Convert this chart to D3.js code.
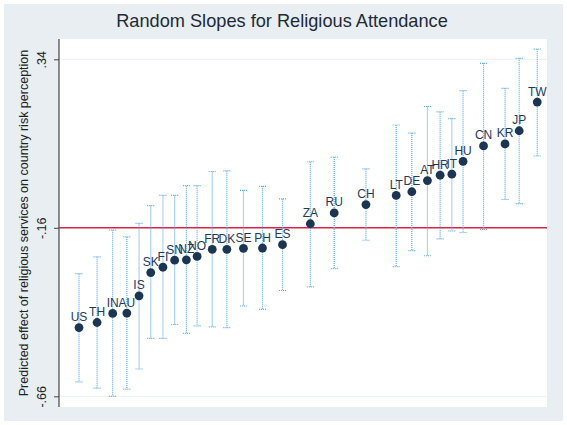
<!DOCTYPE html>
<html><head><meta charset="utf-8">
<script src="https://cdn.jsdelivr.net/npm/d3@7"></script>
<style>body{margin:0;background:#fff;} svg{display:block;}</style>
</head><body>
<svg id="c" width="567" height="425"></svg>
<script>
const countries = ["US","TH","IN","AU","IS","SK","FI","SN","NZ","NO","FR","DK","SE","PH","ES","ZA","RU","CH","LT","DE","AT","HR","IT","HU","CN","KR","JP","TW"];
const xVals = [4.1,7.8,11.0,13.9,16.4,18.8,21.3,23.7,26.1,28.3,31.4,34.4,37.8,41.7,45.8,51.5,56.4,62.9,69.1,72.3,75.5,78.1,80.5,82.8,87.0,91.4,94.3,98.0];
const slopes = [-0.456,-0.441,-0.414,-0.413,-0.362,-0.293,-0.277,-0.256,-0.255,-0.245,-0.224,-0.224,-0.221,-0.220,-0.210,-0.148,-0.116,-0.091,-0.064,-0.053,-0.020,-0.004,-0.001,0.037,0.083,0.089,0.128,0.213];
const ciUpper = [-0.296,-0.246,-0.167,-0.187,-0.147,-0.094,-0.064,-0.064,-0.035,-0.035,0.007,0.009,-0.049,-0.037,-0.074,0.036,0.050,0.015,0.145,0.121,0.200,0.184,0.164,0.247,0.328,0.254,0.343,0.370];
const ciLower = [-0.617,-0.636,-0.660,-0.639,-0.579,-0.488,-0.488,-0.447,-0.473,-0.451,-0.454,-0.456,-0.392,-0.402,-0.346,-0.335,-0.281,-0.197,-0.275,-0.228,-0.243,-0.193,-0.169,-0.174,-0.165,-0.076,-0.088,0.053];
const yTicks = [0.34,-0.16,-0.66];
const yTickLabels = [".34","-.16","-.66"];
const refLine = -0.16;
const title = "Random Slopes for Religious Attendance";
const yTitle = "Predicted effect of religious services on country risk perception";

const svg = d3.select("#c");
const W = 567, H = 425;
const plot = {l:59, r:547, t:39, b:407};

svg.append("rect").attr("x",0).attr("y",0).attr("width",W).attr("height",H).attr("fill","#ffffff");
svg.append("rect").attr("x",4).attr("y",4).attr("width",559).attr("height",417).attr("fill","#e8eef1");
svg.append("rect").attr("x",plot.l).attr("y",plot.t).attr("width",plot.r-plot.l).attr("height",plot.b-plot.t).attr("fill","#ffffff");

const x = d3.scaleLinear().domain([0,100]).range([plot.l, plot.r]);
const y = d3.scaleLinear().domain([-0.66,0.34]).range([396.3, 59.3]);

// gridlines
svg.append("g").selectAll("line").data(yTicks).join("line")
  .attr("x1",plot.l).attr("x2",plot.r)
  .attr("y1",d=>y(d)).attr("y2",d=>y(d))
  .attr("stroke","#eaf0f3").attr("stroke-width",1);

// y axis
const yAxis = d3.axisLeft(y).tickValues(yTicks).tickFormat((d,i)=>yTickLabels[i]).tickSize(5).tickSizeOuter(0);
const ga = svg.append("g").attr("transform",`translate(${plot.l},0)`).call(yAxis);
ga.select(".domain").attr("d",`M0,${plot.t}V${plot.b}`).attr("stroke","#444").attr("stroke-width",1.2);
ga.selectAll(".tick line").attr("stroke","#444");
ga.selectAll(".tick text")
  .attr("font-family","Liberation Sans, Arial, sans-serif").attr("font-size",12.5).attr("fill","#222")
  .attr("transform",d=>`translate(-13,0) rotate(-90)`).attr("x",0).attr("y",0).attr("dy","0")
  .attr("text-anchor","middle");

// reference line
svg.append("line").attr("x1",plot.l).attr("x2",plot.r).attr("y1",y(refLine)).attr("y2",y(refLine))
  .attr("stroke","#d8254a").attr("stroke-width",1.6);

const data = countries.map((c,i)=>({c, x:xVals[i], v:slopes[i], hi:ciUpper[i], lo:ciLower[i]}));
const ebColor = "#5aaaf0";
const eb = svg.append("g");
eb.selectAll("line.v").data(data).join("line")
  .attr("x1",d=>x(d.x)).attr("x2",d=>x(d.x)).attr("y1",d=>y(d.hi)).attr("y2",d=>y(d.lo))
  .attr("stroke",ebColor).attr("stroke-width",1.2).attr("stroke-dasharray","1,1");
eb.selectAll("line.t").data(data).join("line")
  .attr("x1",d=>x(d.x)-3.5).attr("x2",d=>x(d.x)+3.5).attr("y1",d=>y(d.hi)).attr("y2",d=>y(d.hi))
  .attr("stroke",ebColor).attr("stroke-width",1.2).attr("stroke-dasharray","1,1");
eb.selectAll("line.b").data(data).join("line")
  .attr("x1",d=>x(d.x)-3.5).attr("x2",d=>x(d.x)+3.5).attr("y1",d=>y(d.lo)).attr("y2",d=>y(d.lo))
  .attr("stroke",ebColor).attr("stroke-width",1.2).attr("stroke-dasharray","1,1");

svg.append("g").selectAll("circle").data(data).join("circle")
  .attr("cx",d=>x(d.x)).attr("cy",d=>y(d.v)).attr("r",4.4).attr("fill","#1b3553");

svg.append("g").selectAll("text").data(data).join("text")
  .attr("x",d=>x(d.x)).attr("y",d=>y(d.v)-6.5)
  .attr("text-anchor","middle")
  .attr("font-family","Liberation Sans, Arial, sans-serif").attr("font-size",12).attr("fill","#1f3a5a")
  .text(d=>d.c);

svg.append("text").attr("x",282).attr("y",27).attr("text-anchor","middle")
  .attr("font-family","Liberation Sans, Arial, sans-serif").attr("font-size",18.2).attr("fill","#1e2a38")
  .text(title);

svg.append("text").attr("transform",`translate(28,223) rotate(-90)`).attr("text-anchor","middle")
  .attr("font-family","Liberation Sans, Arial, sans-serif").attr("font-size",12.5).attr("fill","#222")
  .text(yTitle);
</script>
</body></html>
